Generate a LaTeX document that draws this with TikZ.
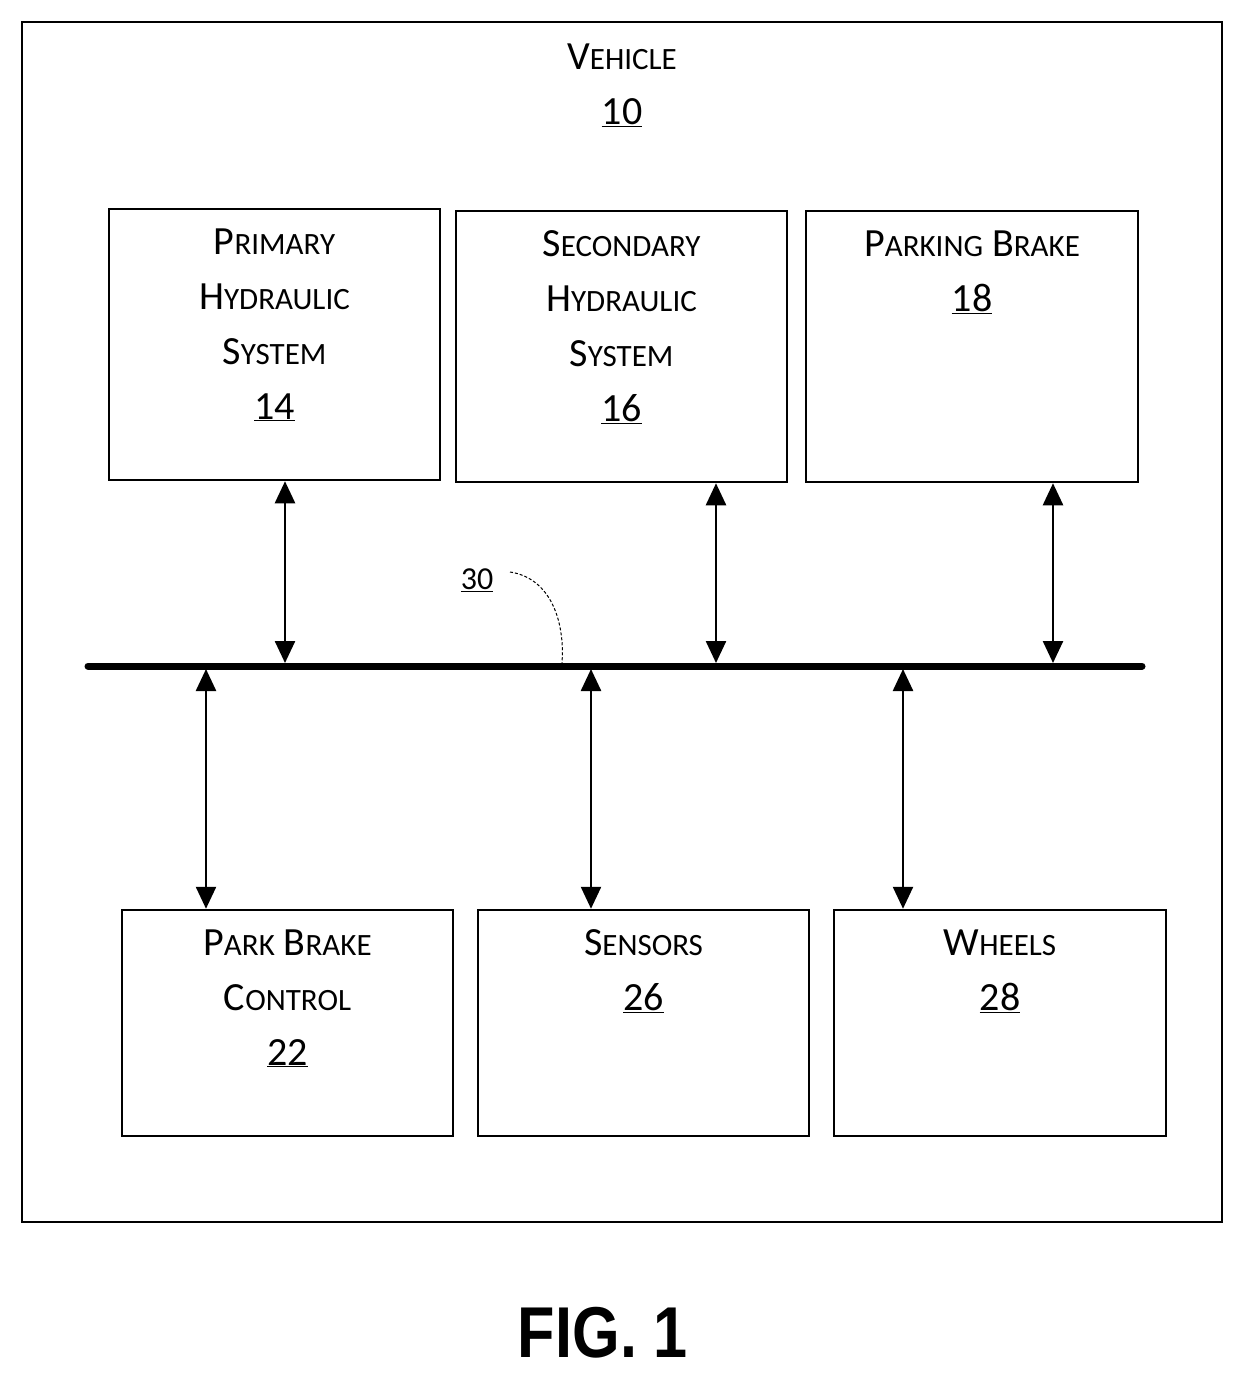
\documentclass[tikz,border=0pt]{standalone}
\usetikzlibrary{arrows.meta}
\usepackage{fontspec}
\setmainfont{Carlito}
\newfontfamily\figfont{Liberation Sans}
\newcommand{\sm}[1]{{\fontsize{31}{36}\selectfont #1}}
\tikzset{box/.style={draw,line width=2.5pt},
lbl/.style={align=center,font=\fontsize{40}{55}\selectfont,anchor=north},
arr/.style={line width=2.5pt,{Triangle[length=22pt,width=20pt]}-{Triangle[length=22pt,width=20pt]}}}
\begin{document}
\begin{tikzpicture}[x=1pt,y=-1pt]
\useasboundingbox (0,0) rectangle (1244,1379);
\draw[box] (22,22) rectangle (1222,1222);
\node[lbl] (veh) at (622,40) {V\sm{EHICLE}\\\underline{10}};
\node[box,minimum width=331pt,minimum height=271pt] (p) at (274.5,344.5) {};
\node[lbl] at (274.5,225) {P\sm{RIMARY}\\H\sm{YDRAULIC}\\S\sm{YSTEM}\\\underline{14}};
\node[box,minimum width=331pt,minimum height=271pt] (s) at (621.5,346.5) {};
\node[lbl] at (621.5,227) {S\sm{ECONDARY}\\H\sm{YDRAULIC}\\S\sm{YSTEM}\\\underline{16}};
\node[box,minimum width=332pt,minimum height=271pt] (pb) at (972,346.5) {};
\node[lbl] at (972,227) {P\sm{ARKING} B\sm{RAKE}\\\underline{18}};
\node[box,minimum width=331pt,minimum height=226pt] (pc) at (287.5,1023) {};
\node[lbl] at (287.5,926) {P\sm{ARK} B\sm{RAKE}\\C\sm{ONTROL}\\\underline{22}};
\node[box,minimum width=331pt,minimum height=226pt] (se) at (643.5,1023) {};
\node[lbl] at (643.5,926) {S\sm{ENSORS}\\\underline{26}};
\node[box,minimum width=332pt,minimum height=226pt] (w) at (1000,1023) {};
\node[lbl] at (1000,926) {W\sm{HEELS}\\\underline{28}};
\coordinate (b1) at (88,666); \coordinate (b2) at (1142,666);
\draw[line width=7pt,line cap=round] (b1) -- (b2);
\coordinate (u1) at (285,663); \coordinate (u2) at (716,663); \coordinate (u3) at (1053,663);
\coordinate (d1) at (206,669); \coordinate (d2) at (591,669); \coordinate (d3) at (903,669);
\draw[arr] (u1 |- p.south) -- (u1);
\draw[arr] (u2 |- s.south) -- (u2);
\draw[arr] (u3 |- pb.south) -- (u3);
\draw[arr] (d1) -- (d1 |- pc.north);
\draw[arr] (d2) -- (d2 |- se.north);
\draw[arr] (d3) -- (d3 |- w.north);
\node[font=\fontsize{32}{36}\selectfont] (n30) at (477,580) {\underline{30}};
\coordinate (c30) at (562,663);
\coordinate (s30) at (510,572);
\draw[line width=1pt,dash pattern=on 3pt off 2pt] (s30) .. controls (550,578) and (565,620) .. (c30);
\node[font=\figfont\bfseries\fontsize{72}{80}\selectfont,xscale=0.85] (fig) at (603,1333) {FIG. 1};
\end{tikzpicture}
\end{document}
